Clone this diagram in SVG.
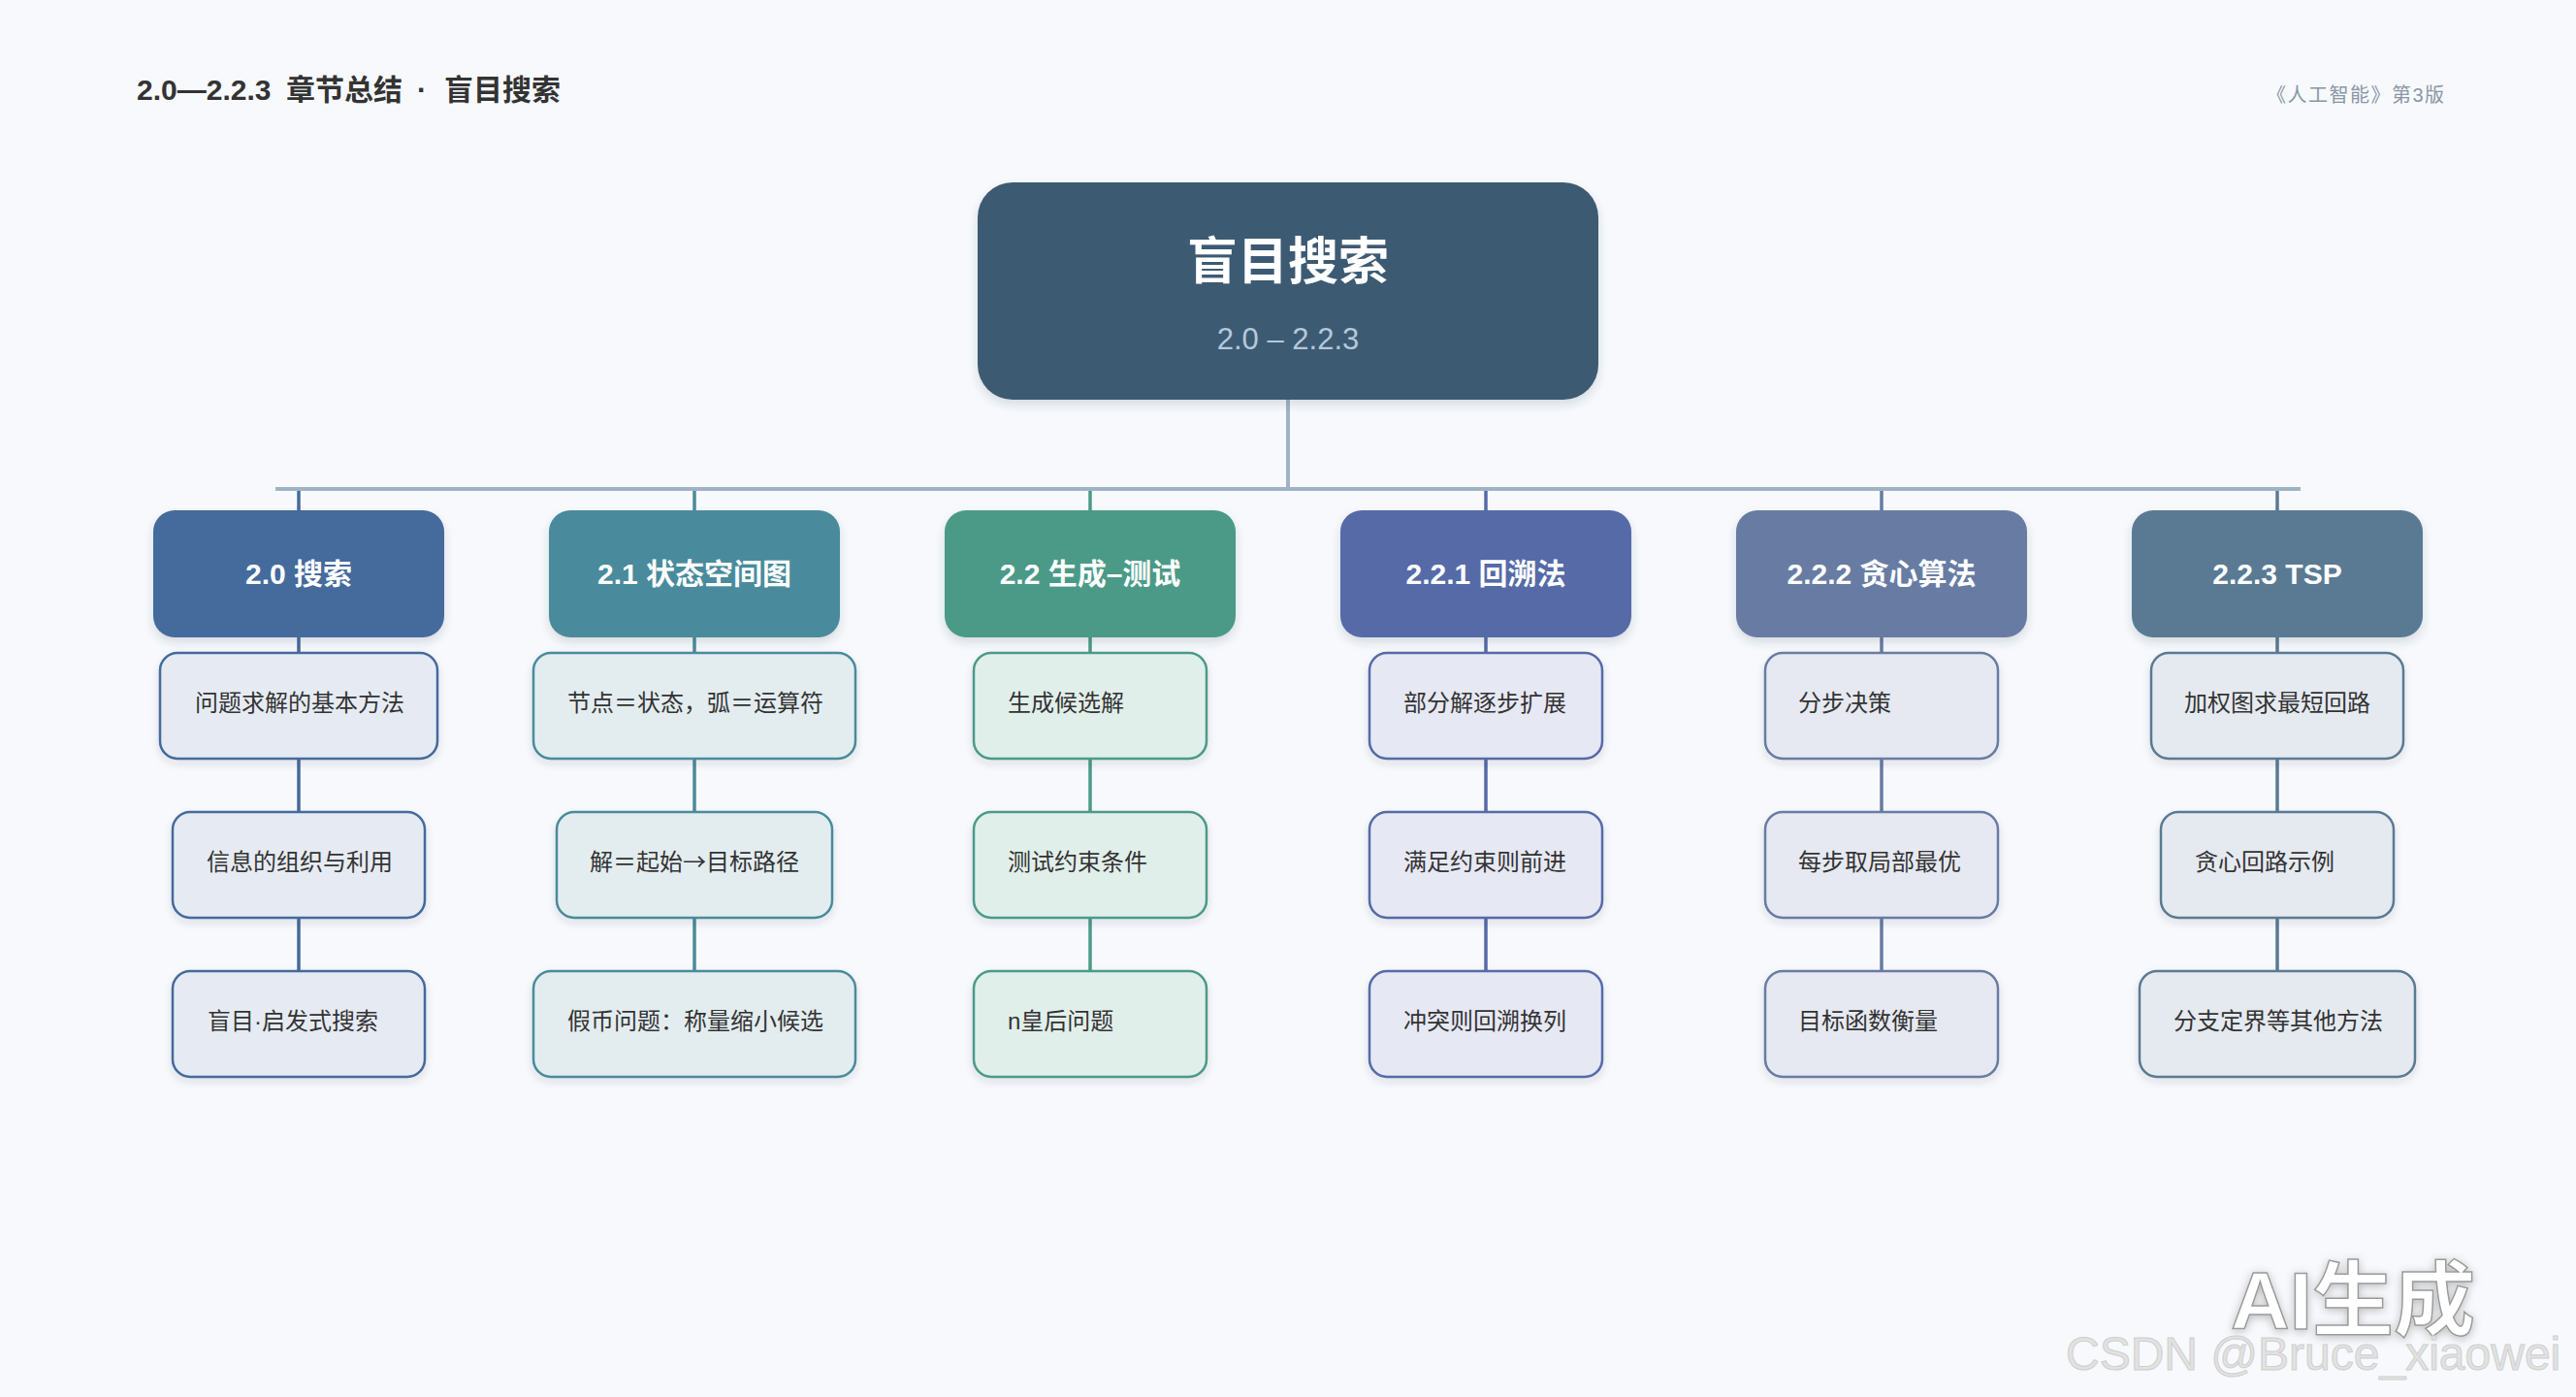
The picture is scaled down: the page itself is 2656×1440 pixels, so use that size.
<svg xmlns="http://www.w3.org/2000/svg" width="2656" height="1440" viewBox="0 0 2656 1440">
<defs>
<filter id="sh" x="-20%" y="-20%" width="140%" height="160%">
<feDropShadow dx="0" dy="5" stdDeviation="5" flood-color="#2c3e50" flood-opacity="0.16"/>
</filter>
<filter id="sh2" x="-20%" y="-20%" width="140%" height="160%">
<feDropShadow dx="0" dy="4" stdDeviation="4" flood-color="#2c3e50" flood-opacity="0.12"/>
</filter>
<filter id="wm" x="-20%" y="-30%" width="140%" height="160%">
<feDropShadow dx="0" dy="2" stdDeviation="5" flood-color="#000" flood-opacity="0.25"/>
</filter>
</defs>
<style>
text{font-family:"Liberation Sans","Noto Sans CJK SC",sans-serif;}
.cjk{font-family:"Noto Sans CJK SC",sans-serif;}
.hd{font-size:30px;font-weight:bold;fill:#333;}
.ed{font-size:20px;fill:#8a96a6;letter-spacing:1.5px;}
.rt{font-size:52px;font-weight:bold;fill:#fff;text-anchor:middle;}
.rs{font-size:31px;fill:#b4c8dc;text-anchor:middle;}
.l1{filter:url(#sh);}
.l1t{font-size:30px;font-weight:bold;fill:#fff;text-anchor:middle;}
.l2{stroke-width:2.5;filter:url(#sh2);}
.l2t{font-size:24px;fill:#333;}
.c{fill:none;stroke-width:3.5;}
.c1{stroke:#456a9c;}.c2{stroke:#4a8b9c;}.c3{stroke:#4b9a88;}.c4{stroke:#566aa8;}.c5{stroke:#677ba3;}.c6{stroke:#5a7a94;}
.f1{fill:#e6ebf3;stroke:#456a9c;}.f2{fill:#e3edf0;stroke:#4a8b9c;}.f3{fill:#e1efea;stroke:#4b9a88;}
.f4{fill:#e6e8f4;stroke:#566aa8;}.f5{fill:#e6e9f1;stroke:#677ba3;}.f6{fill:#e5eaf0;stroke:#5a7a94;}
</style>
<rect width="2656" height="1440" fill="#f7f9fc"/>

<g id="header">
<text class="hd" x="141" y="103">2.0—2.2.3<tspan x="295">章节总结</tspan><tspan x="430">·</tspan><tspan x="458">盲目搜索</tspan></text>
<text class="ed" x="2337" y="105">《人工智能》第3版</text>
</g>

<g id="connectors">
<line x1="1328" y1="410" x2="1328" y2="504" stroke="#9fb2c6" stroke-width="4"/>
<line x1="284" y1="504" x2="2372" y2="504" stroke="#9fb2c6" stroke-width="4"/>
<line class="c c1" x1="308" y1="506" x2="308" y2="527"/>
<line class="c c2" x1="716" y1="506" x2="716" y2="527"/>
<line class="c c3" x1="1124" y1="506" x2="1124" y2="527"/>
<line class="c c4" x1="1532" y1="506" x2="1532" y2="527"/>
<line class="c c5" x1="1940" y1="506" x2="1940" y2="527"/>
<line class="c c6" x1="2348" y1="506" x2="2348" y2="527"/>
<path class="c c1" d="M308 656V674M308 781V838M308 945V1002"/>
<path class="c c2" d="M716 656V674M716 781V838M716 945V1002"/>
<path class="c c3" d="M1124 656V674M1124 781V838M1124 945V1002"/>
<path class="c c4" d="M1532 656V674M1532 781V838M1532 945V1002"/>
<path class="c c5" d="M1940 656V674M1940 781V838M1940 945V1002"/>
<path class="c c6" d="M2348 656V674M2348 781V838M2348 945V1002"/>
</g>

<g id="root">
<rect x="1008" y="188" width="640" height="224" rx="36" fill="#3e5a73" filter="url(#sh)"/>
<text class="rt" x="1328" y="288">盲目搜索</text>
<text class="rs" x="1328" y="360">2.0 – 2.2.3</text>
</g>

<g id="n20"><rect class="l1" x="158" y="526" width="300" height="131" rx="22" fill="#456a9c"/><text class="l1t" x="308" y="602">2.0 搜索</text></g>
<g id="n21"><rect class="l1" x="566" y="526" width="300" height="131" rx="22" fill="#4a8b9c"/><text class="l1t" x="716" y="602">2.1 状态空间图</text></g>
<g id="n22"><rect class="l1" x="974" y="526" width="300" height="131" rx="22" fill="#4b9a88"/><text class="l1t" x="1124" y="602">2.2 生成–测试</text></g>
<g id="n221"><rect class="l1" x="1382" y="526" width="300" height="131" rx="22" fill="#566aa8"/><text class="l1t" x="1532" y="602">2.2.1 回溯法</text></g>
<g id="n222"><rect class="l1" x="1790" y="526" width="300" height="131" rx="22" fill="#677ba3"/><text class="l1t" x="1940" y="602">2.2.2 贪心算法</text></g>
<g id="n223"><rect class="l1" x="2198" y="526" width="300" height="131" rx="22" fill="#5a7a94"/><text class="l1t" x="2348" y="602">2.2.3 TSP</text></g>

<g id="n20a"><rect class="l2 f1" x="165" y="673" width="286" height="109" rx="18"/><text class="l2t" x="201" y="733">问题求解的基本方法</text></g>
<g id="n20b"><rect class="l2 f1" x="178" y="837" width="260" height="109" rx="18"/><text class="l2t" x="213" y="897">信息的组织与利用</text></g>
<g id="n20c"><rect class="l2 f1" x="178" y="1001" width="260" height="109" rx="18"/><text class="l2t" x="214" y="1061">盲目·启发式搜索</text></g>

<g id="n21a"><rect class="l2 f2" x="550" y="673" width="332" height="109" rx="18"/><text class="l2t" x="585" y="733">节点＝状态，弧＝运算符</text></g>
<g id="n21b"><rect class="l2 f2" x="574" y="837" width="284" height="109" rx="18"/><text class="l2t" x="608" y="897">解＝起始<tspan class="cjk">→</tspan>目标路径</text></g>
<g id="n21c"><rect class="l2 f2" x="550" y="1001" width="332" height="109" rx="18"/><text class="l2t" x="585" y="1061">假币问题：称量缩小候选</text></g>

<g id="n22a"><rect class="l2 f3" x="1004" y="673" width="240" height="109" rx="18"/><text class="l2t" x="1039" y="733">生成候选解</text></g>
<g id="n22b"><rect class="l2 f3" x="1004" y="837" width="240" height="109" rx="18"/><text class="l2t" x="1039" y="897">测试约束条件</text></g>
<g id="n22c"><rect class="l2 f3" x="1004" y="1001" width="240" height="109" rx="18"/><text class="l2t" x="1039" y="1061">n皇后问题</text></g>

<g id="n221a"><rect class="l2 f4" x="1412" y="673" width="240" height="109" rx="18"/><text class="l2t" x="1447" y="733">部分解逐步扩展</text></g>
<g id="n221b"><rect class="l2 f4" x="1412" y="837" width="240" height="109" rx="18"/><text class="l2t" x="1447" y="897">满足约束则前进</text></g>
<g id="n221c"><rect class="l2 f4" x="1412" y="1001" width="240" height="109" rx="18"/><text class="l2t" x="1447" y="1061">冲突则回溯换列</text></g>

<g id="n222a"><rect class="l2 f5" x="1820" y="673" width="240" height="109" rx="18"/><text class="l2t" x="1854" y="733">分步决策</text></g>
<g id="n222b"><rect class="l2 f5" x="1820" y="837" width="240" height="109" rx="18"/><text class="l2t" x="1854" y="897">每步取局部最优</text></g>
<g id="n222c"><rect class="l2 f5" x="1820" y="1001" width="240" height="109" rx="18"/><text class="l2t" x="1854" y="1061">目标函数衡量</text></g>

<g id="n223a"><rect class="l2 f6" x="2218" y="673" width="260" height="109" rx="18"/><text class="l2t" x="2252" y="733">加权图求最短回路</text></g>
<g id="n223b"><rect class="l2 f6" x="2228" y="837" width="240" height="109" rx="18"/><text class="l2t" x="2263" y="897">贪心回路示例</text></g>
<g id="n223c"><rect class="l2 f6" x="2206" y="1001" width="284" height="109" rx="18"/><text class="l2t" x="2241" y="1061">分支定界等其他方法</text></g>

<g id="watermark">
<text x="2300" y="1370" font-size="84" font-weight="bold" fill="#ffffff" stroke="#9a9a9a" stroke-width="1.5" filter="url(#wm)">AI生成</text>
<text x="2130" y="1412" font-size="48" fill="#e2e2e2" stroke="#cfcfcf" stroke-width="1">CSDN @Bruce_xiaowei</text>
</g>
</svg>
